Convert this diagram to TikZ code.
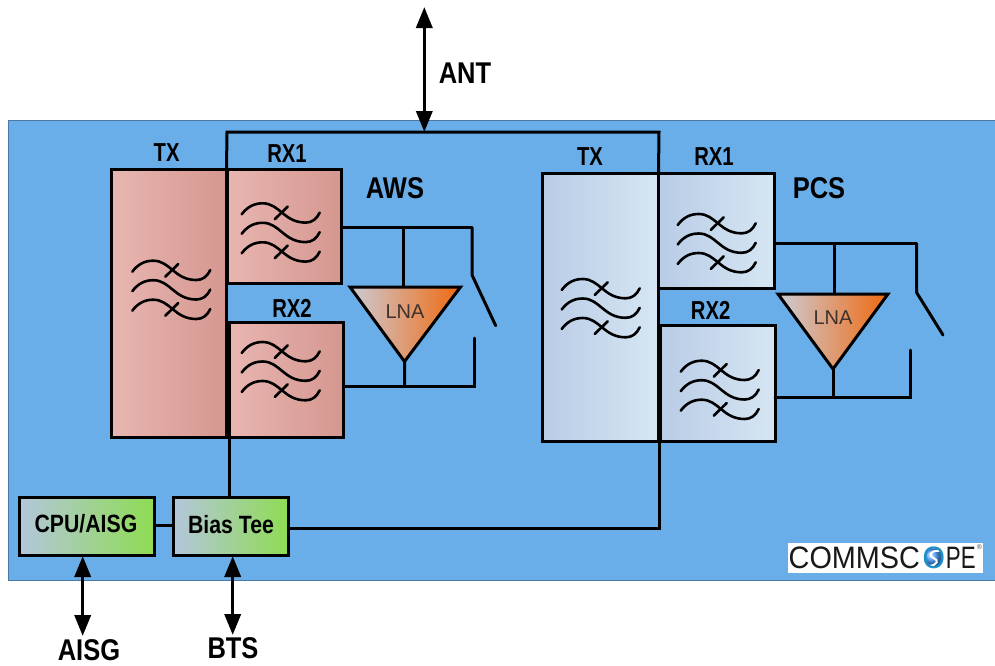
\documentclass[tikz,border=0pt]{standalone}
\usepackage{fontspec}
\setmainfont{Liberation Sans}
\newfontfamily\condfont[FakeStretch=0.85]{Liberation Sans Bold}
\newfontfamily\narrowfont[FakeStretch=0.78]{Liberation Sans Bold}
\newfontfamily\logofont[FakeStretch=0.93]{Liberation Sans}
\newfontfamily\logotail[FakeStretch=0.72]{Liberation Sans}
\usetikzlibrary{arrows.meta,calc}
\definecolor{panelblue}{HTML}{6AAEE9}
\definecolor{redl}{HTML}{E8B6B1}
\definecolor{redr}{HTML}{D59790}
\definecolor{bluel}{HTML}{B9CCE6}
\definecolor{bluer}{HTML}{D6E6F3}
\definecolor{lnal}{HTML}{CCCCD6}
\definecolor{lnar}{HTML}{F0690F}
\definecolor{greenl}{HTML}{B4C6DC}
\definecolor{greenr}{HTML}{8EDC52}
\definecolor{lnatext}{HTML}{3F322C}
\definecolor{logoring}{HTML}{1E8FC8}
\tikzset{
  x=1pt,y=-1pt,
  boxbase/.style={draw=black,line width=3pt,inner sep=0pt,outer sep=0pt,shape=rectangle,line join=miter},
  redbox/.style={boxbase,left color=redl,right color=redr},
  bluebox/.style={boxbase,left color=bluel,right color=bluer},
  greenbox/.style={boxbase,left color=greenl,right color=greenr},
  wire/.style={draw=black,line width=3pt,line join=miter},
  switcharm/.style={draw=black,line width=3pt,line cap=round,line join=miter},
  lnashape/.style={draw=black,line width=3pt,line join=miter,left color=lnal,right color=lnar},
  biarrow/.style={draw=black,line width=3.5pt,{Triangle[width=16pt,length=21pt]}-{Triangle[width=16pt,length=21pt]}},
  lab/.style={inner sep=0pt,font=\narrowfont\fontsize{26}{26}\selectfont},
  biglab/.style={inner sep=0pt,font=\condfont\fontsize{30}{30}\selectfont},
  boxlab/.style={inner sep=0pt,font=\condfont\fontsize{25}{25}\selectfont},
  lnalab/.style={inner sep=0pt,text=lnatext,font=\fontsize{20}{20}\selectfont},
  wave/.style={draw=black,line width=2.6pt,line cap=round},
  filtersym/.pic={
    \foreach \dy in {0,19.5,39}{
      \draw[wave] (0,\dy) .. controls (6,\dy-8) and (13,\dy-11) .. (21,\dy-11)
        .. controls (38,\dy-11) and (42,\dy+8.3) .. (64,\dy+8.3)
        .. controls (70,\dy+8.3) and (75,\dy+5) .. (78,\dy-1.7);
    }
    \draw[wave] (33,5) -- (46,-7.7);
    \draw[wave] (33,44) -- (46,31.3);
  }
}
\begin{document}
\begin{tikzpicture}
\useasboundingbox (0,0) rectangle (995,665);
\fill[white] (0,0) rectangle (995,665);
\path[fill=panelblue,draw=black!30!panelblue,line width=1pt] (8,120.5) rectangle (995,580);

% filter boxes
\node[redbox,minimum width=115pt,minimum height=268pt] (atx) at (169,303) {};
\node[redbox,minimum width=114.5pt,minimum height=114.5pt] (arx1) at (284.25,226.25) {};
\node[redbox,minimum width=114.5pt,minimum height=115pt] (arx2) at (286.25,379.5) {};
\node[bluebox,minimum width=116pt,minimum height=268pt] (ptx) at (600.5,307) {};
\node[bluebox,minimum width=115.5pt,minimum height=115pt] (prx1) at (716.25,230.5) {};
\node[bluebox,minimum width=115pt,minimum height=116pt] (prx2) at (717.5,383) {};
\node[greenbox,minimum width=135pt,minimum height=58pt] (cpu) at (86.5,526) {};
\node[greenbox,minimum width=115.5pt,minimum height=58pt] (bias) at (231,526) {};
\node[boxlab] (cputext) at (86,524) {CPU/AISG};
\node[boxlab] (biastext) at (231,525) {Bias Tee};

% filter symbols
\pic at (132.3,271.7) {filtersym};
\pic at (241.7,214.3) {filtersym};
\pic at (241.7,353) {filtersym};
\pic at (561.7,290) {filtersym};
\pic at (677.7,225) {filtersym};
\pic at (680.7,371.7) {filtersym};

% LNA triangles
\coordinate (alnaL) at (350,287);
\coordinate (alnaR) at (460.5,287);
\coordinate (alnaB) at (404.5,361.5);
\coordinate (plnaL) at (778,294);
\coordinate (plnaR) at (888,294);
\coordinate (plnaB) at (833,369);
\path[lnashape] (alnaL) -- (alnaR) -- (alnaB) -- cycle;
\path[lnashape] (plnaL) -- (plnaR) -- (plnaB) -- cycle;
\node[lnalab] (alna) at (405,311.7) {LNA};
\node[lnalab] (plna) at (833,318) {LNA};

% antenna bus
\coordinate (busL) at (227,132);
\coordinate (busR) at (659,132);
\coordinate (busM) at (424.3,132);
\coordinate (antTop) at (424.3,7);
\draw[wire] (atx.north east) -- (busL) -- (busR) -- (ptx.north east);
\draw[wire] (atx.north east) -- (atx.south east);
\draw[wire] (ptx.north east) -- (ptx.south east);
\coordinate (arx2low) at (229,437);
\draw[wire] (arx2.north west) -- (arx2low);
\coordinate (biasA) at (229,497);
\draw[wire] (arx2low) -- (biasA);

% bias tee links
\coordinate (ptxlow) at (659,441);
\coordinate (biasCorner) at (659,528);
\coordinate (biasE) at (289,528);
\draw[wire] (ptxlow) -- (biasCorner) -- (biasE);
\coordinate (cpuE) at (154,525.7);
\coordinate (biasW) at (173,525.7);
\draw[wire] (cpuE) -- (biasW);

% AWS LNA wiring
\coordinate (a1) at (342,227.3);
\coordinate (aj1) at (403,227.3);
\coordinate (aj1b) at (403,287);
\coordinate (a2) at (472,227.3);
\coordinate (a3) at (472,275);
\coordinate (a4) at (495.7,325.7);
\coordinate (b1) at (344,386.7);
\coordinate (bj) at (404.7,386.7);
\coordinate (b2) at (474,386.7);
\coordinate (b3) at (474,338);
\draw[wire] (a1) -- (a2);
\draw[wire] (aj1) -- (aj1b);
\draw[switcharm] (a2) -- (a3) -- (a4);
\draw[switcharm] (b1) -- (b2) -- (b3);
\draw[wire] (alnaB) -- (bj);

% PCS LNA wiring
\coordinate (c1) at (775,243.7);
\coordinate (cj1) at (834.3,243.7);
\coordinate (cj1b) at (834.3,294);
\coordinate (c2) at (916.7,243.7);
\coordinate (c3) at (916.7,292.7);
\coordinate (c4) at (943,335);
\coordinate (d1) at (775,397.7);
\coordinate (dj) at (833,397.7);
\coordinate (d2) at (910,397.7);
\coordinate (d3) at (910,350);
\draw[wire] (c1) -- (c2);
\draw[wire] (cj1) -- (cj1b);
\draw[switcharm] (c2) -- (c3) -- (c4);
\draw[switcharm] (d1) -- (d2) -- (d3);
\draw[wire] (plnaB) -- (dj);

% external arrows
\coordinate (cpuDown) at (82.7,636);
\coordinate (cpuUp) at (82.7,556);
\coordinate (btsDown) at (232.7,635);
\coordinate (btsUp) at (232.7,556);
\draw[biarrow] (antTop) -- (busM);
\draw[biarrow] (cpuUp) -- (cpuDown);
\draw[biarrow] (btsUp) -- (btsDown);

% labels
\node[lab] (atxl) at (166.7,153) {TX};
\node[lab] (arx1l) at (287,154) {RX1};
\node[biglab] (awsl) at (395,188) {AWS};
\node[lab] (arx2l) at (292,308) {RX2};
\node[lab] (ptxl) at (590,156.7) {TX};
\node[lab] (prx1l) at (714,156.7) {RX1};
\node[biglab] (pcsl) at (819,187.7) {PCS};
\node[lab] (prx2l) at (710.7,310) {RX2};
\node[biglab] (antl) at (465,73) {ANT};
\node[biglab] (aisgl) at (89,650) {AISG};
\node[biglab] (btsl) at (233,648) {BTS};

% logo
\path[fill=white] (788,543) rectangle (983,573);
\shade[ball color=cyan!45!blue!70] (933.5,558) circle (9.5);
\draw[white,line width=2pt,line cap=round] (939,551) .. controls (930,550) and (928,556) .. (933.5,558) .. controls (939,560) and (938,565) .. (929,566);
\node[inner sep=0pt,anchor=west,text=black!90,font=\logofont\fontsize{31}{31}\selectfont] (logo) at (788.5,558) {COMMSC\hspace{2.5pt}\textcolor{logoring}{O}\hspace{1pt}{\logotail PE}};
\node[inner sep=0pt,font=\fontsize{7}{7}\selectfont,text=black!70] (reg) at (979.5,547.5) {®};
\end{tikzpicture}
\end{document}
